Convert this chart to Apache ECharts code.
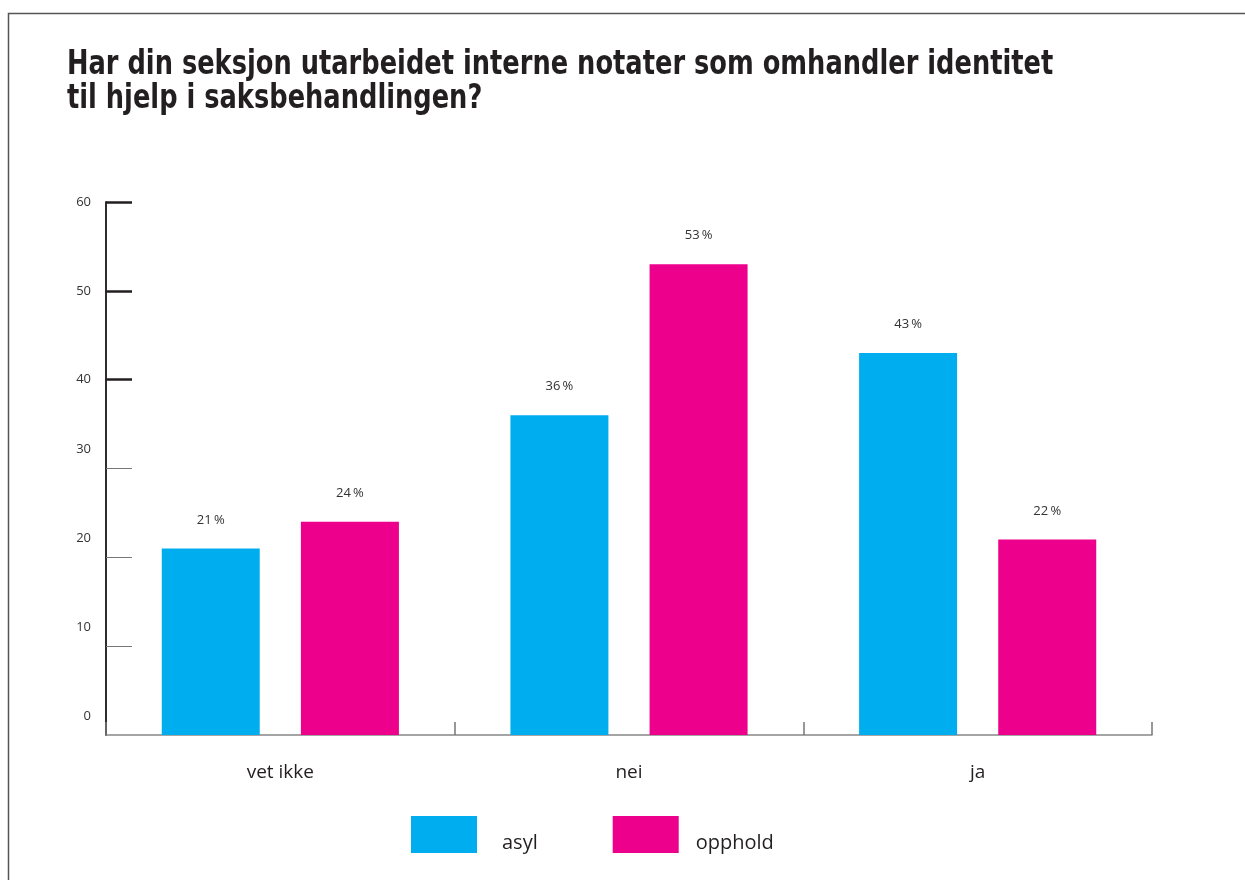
<!DOCTYPE html>
<html lang="no">
<head>
    <meta charset="UTF-8">
    <title>Interne notater om identitet</title>
    <style>
        html, body { margin: 0; padding: 0; background: #fff; }
    </style>
</head>
<body>
<div id="main" style="width: 1245px;height:880px;"></div>
<script src="https://cdn.jsdelivr.net/npm/echarts@6/dist/echarts.min.js"></script>
<script type="text/javascript">
    // data
    var categories = ['vet ikke', 'nei', 'ja'];
    var asyl = [21, 36, 43];
    var opphold = [24, 53, 22];
    var lowTicks = [10, 20, 30];
    var highTicks = [40, 50, 60];
    var lowLabels = [0, 10, 20, 30];
    var highLabels = [40, 50, 60];

    var fontMain = '"Open Sans", "Noto Sans", sans-serif';
    var textColor = '#231f20';

    var myChart = echarts.init(document.getElementById('main'));

    function pct(p) {
        return p.value + '\u2009%';
    }

    // two overlaid value axes: same scale, different tick look / label shift
    function yAxisBase(ticks, labels, tickStyle, shiftUp) {
        return {
            type: 'value',
            min: 0,
            max: 60,
            interval: 10,
            position: 'left',
            axisLine: { show: true, lineStyle: { color: '#231f20', width: 1.5 } },
            axisTick: {
                show: true,
                inside: true,
                length: 26,
                customValues: ticks,
                lineStyle: tickStyle
            },
            axisLabel: {
                customValues: labels,
                margin: 15,
                formatter: function (v) { return '{a|' + v + '}'; },
                rich: {
                    a: {
                        fontSize: 13,
                        color: '#333',
                        fontFamily: fontMain,
                        padding: [0, 0, shiftUp * 2, 0]
                    }
                }
            },
            splitLine: { show: false }
        };
    }

    var legendText = {
        fontFamily: fontMain,
        fontSize: 20,
        color: textColor
    };

    myChart.setOption({
        animation: false,
        graphic: [{
            type: 'rect',
            shape: { x: 8.5, y: 13.5, width: 1300, height: 900 },
            style: { fill: 'none', stroke: '#555', lineWidth: 1.5 },
            silent: true
        }, {
            type: 'text',
            x: 67,
            y: 48,
            scaleX: 0.84,
            style: {
                text: 'Har din seksjon utarbeidet interne notater som omhandler identitet\ntil hjelp i saksbehandlingen?',
                font: 'bold 34px "DejaVu Sans Condensed", "DejaVu Sans", sans-serif',
                lineHeight: 34,
                fill: textColor
            },
            silent: true
        }],
        legend: {
            data: ['asyl', 'opphold'],
            left: 406,
            top: 811,
            itemWidth: 66,
            itemHeight: 37,
            itemGap: 75,
            icon: 'rect',
            formatter: function (name) {
                return name === 'asyl' ? '{a|' + name + '}' : '{b|' + name + '}';
            },
            textStyle: {
                rich: {
                    a: Object.assign({ padding: [18, 0, 0, 20] }, legendText),
                    b: Object.assign({ padding: [18, 0, 0, 12] }, legendText)
                }
            }
        },
        grid: {
            left: 106,
            right: 93,
            top: 202,
            bottom: 145,
            containLabel: false
        },
        xAxis: {
            type: 'category',
            data: categories,
            axisLine: { lineStyle: { color: '#888', width: 1.5 } },
            axisTick: {
                show: true,
                inside: true,
                length: 13,
                lineStyle: { color: '#777', width: 1.5 }
            },
            axisLabel: {
                margin: 28,
                fontSize: 19,
                color: textColor,
                fontFamily: fontMain
            }
        },
        yAxis: [
            yAxisBase(lowTicks, lowLabels, { color: '#777', width: 1 }, 19),
            yAxisBase(highTicks, highLabels, { color: '#231f20', width: 2.5 }, 0)
        ],
        series: [{
            name: 'asyl',
            type: 'bar',
            data: asyl,
            barWidth: 98,
            barGap: '42%',
            itemStyle: { color: '#00aeef' },
            label: {
                show: true,
                position: 'top',
                distance: 22,
                fontSize: 13,
                color: '#333',
                fontFamily: fontMain,
                formatter: pct
            }
        }, {
            name: 'opphold',
            type: 'bar',
            data: opphold,
            barWidth: 98,
            barGap: '42%',
            itemStyle: { color: '#ec008c' },
            label: {
                show: true,
                position: 'top',
                distance: 22,
                fontSize: 13,
                color: '#333',
                fontFamily: fontMain,
                formatter: pct
            }
        }]
    });
</script>
</body>
</html>
